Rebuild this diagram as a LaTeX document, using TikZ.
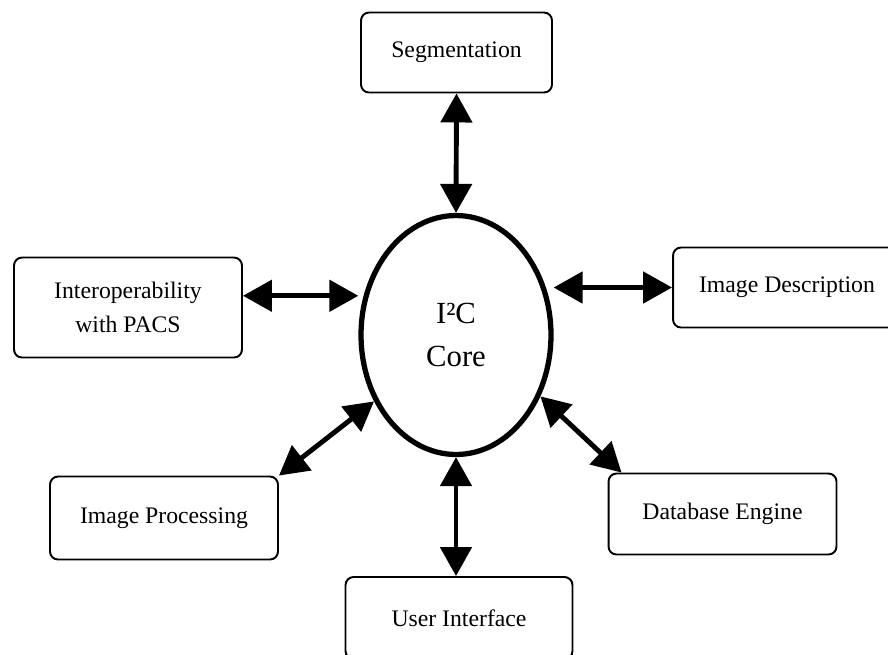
\documentclass[tikz,border=0pt]{standalone}
\usepackage{fontspec}
\setmainfont{Liberation Serif}
\usetikzlibrary{shapes.geometric,arrows.meta}
\begin{document}
\begin{tikzpicture}[x=0.02cm,y=-0.02cm,>={Triangle[length=0.58cm,width=0.62cm]},
    module/.style={draw,line width=1.1pt,rounded corners=0.16cm,align=center,inner sep=0,font=\fontsize{13.5}{19}\selectfont},
    link/.style={<->,line width=2.8pt}]
        \clip(0,0)rectangle(888,654);
        \node[draw,ellipse,line width=3pt,minimum width=3.8cm,minimum height=4.78cm,inner sep=0,align=center,font=\fontsize{17.5}{24}\selectfont](core)at(456,335){I²C\\Core};
        \node[module,minimum width=3.82cm,minimum height=1.6cm](seg)at(456.5,52.5){Segmentation};
        \node[module,minimum width=4.56cm,minimum height=2cm](inter)at(128,307.5){Interoperability\\with PACS};
        \node[module,minimum width=4.56cm,minimum height=1.6cm](desc)at(787,287.5){Image Description};
        \node[module,minimum width=4.56cm,minimum height=1.66cm](proc)at(164,518){Image Processing};
        \node[module,minimum width=4.56cm,minimum height=1.62cm](db)at(722.5,514){Database Engine};
        \node[module,minimum width=4.54cm,minimum height=1.64cm](ui)at(459,618){User Interface};
        \draw[link](seg.south)--(core.north);
        \draw[link](inter.east|-core.157)--(core.west|-core.157);
        \draw[link](core.east|-desc.west)--(desc.west);
        \draw[link](proc.north east)--(core.219);
        \draw[link](core.324)--([xshift=0.28cm]db.north west);
        \draw[link](core.south)--(core.south|-ui.north);
    \end{tikzpicture}
\end{document}
